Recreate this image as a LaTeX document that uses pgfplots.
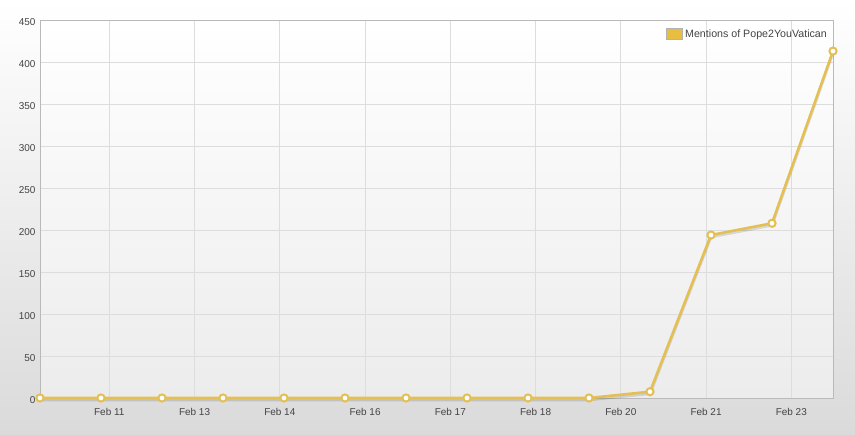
\documentclass[border=0pt]{standalone}
\usepackage{pgfplots}
\pgfplotsset{compat=1.18}
\usepackage{fontspec}
\setmainfont{Liberation Sans}
\definecolor{gold}{RGB}{228,192,84}
\definecolor{legendgold}{RGB}{232,190,64}
\definecolor{gridc}{RGB}{221,221,221}
\definecolor{boxc}{RGB}{185,185,185}
\definecolor{txt}{RGB}{68,68,68}
\definecolor{bgbot}{RGB}{218,218,218}
\definecolor{plotbot}{RGB}{236,236,236}
\pgfplotstableread{
x y
0 0
1 0
2 0
3 0
4 0
5 0
6 0
7 0
8 0
9 0
10 7.5
11 194
12 208
13 413
}\mentions
\begin{document}
\begin{tikzpicture}[x=1bp,y=1bp]
\shade[top color=white, bottom color=bgbot] (0,0) rectangle (855,435);
\useasboundingbox (0,0) rectangle (855,435);
\begin{axis}[
  at={(40bp,37bp)}, anchor=south west,
  scale only axis, width=793bp, height=378bp,
  xmin=0, xmax=13, ymin=0, ymax=450,
  axis background/.style={shade, top color=white, bottom color=plotbot},
  axis line style={boxc},
  xtick={1.136,2.534,3.931,5.329,6.726,8.124,9.521,10.919,12.316},
  xticklabels={Feb 11,Feb 13,Feb 14,Feb 16,Feb 17,Feb 18,Feb 20,Feb 21,Feb 23},
  ytick={0,50,...,450},
  major tick length=0pt,
  grid=major, major grid style={gridc, line width=0.8bp},
  ticklabel style={font=\fontsize{10}{12}\selectfont, text=txt},
  /pgf/number format/assume math mode=true,
  xticklabel style={yshift=-6.5bp},
  yticklabel style={xshift=-1bp, yshift=-2.5bp},
  clip=false,
  legend style={at={(rel axis cs:0.9975,0.985)}, anchor=north east, draw=none, fill=none,
    font=\fontsize{10.7}{12}\selectfont, text=txt, inner sep=2bp},
  legend cell align=left,
  legend image code/.code={\draw[fill=legendgold, draw=gray!60, line width=0.8bp] (0bp,-5bp) rectangle (16bp,6bp);},
]
\addplot[draw=black, opacity=0.12, line width=3bp, yshift=-1.8bp, forget plot] table[x=x,y=y] {\mentions};
\addplot[draw=gold, line width=2.6bp, mark=*, mark size=3.6bp,
  mark options={fill=white, draw=gold, line width=2bp}] table[x=x,y=y] {\mentions};
\addlegendentry{Mentions of Pope2YouVatican}
\end{axis}
\end{tikzpicture}
\end{document}
